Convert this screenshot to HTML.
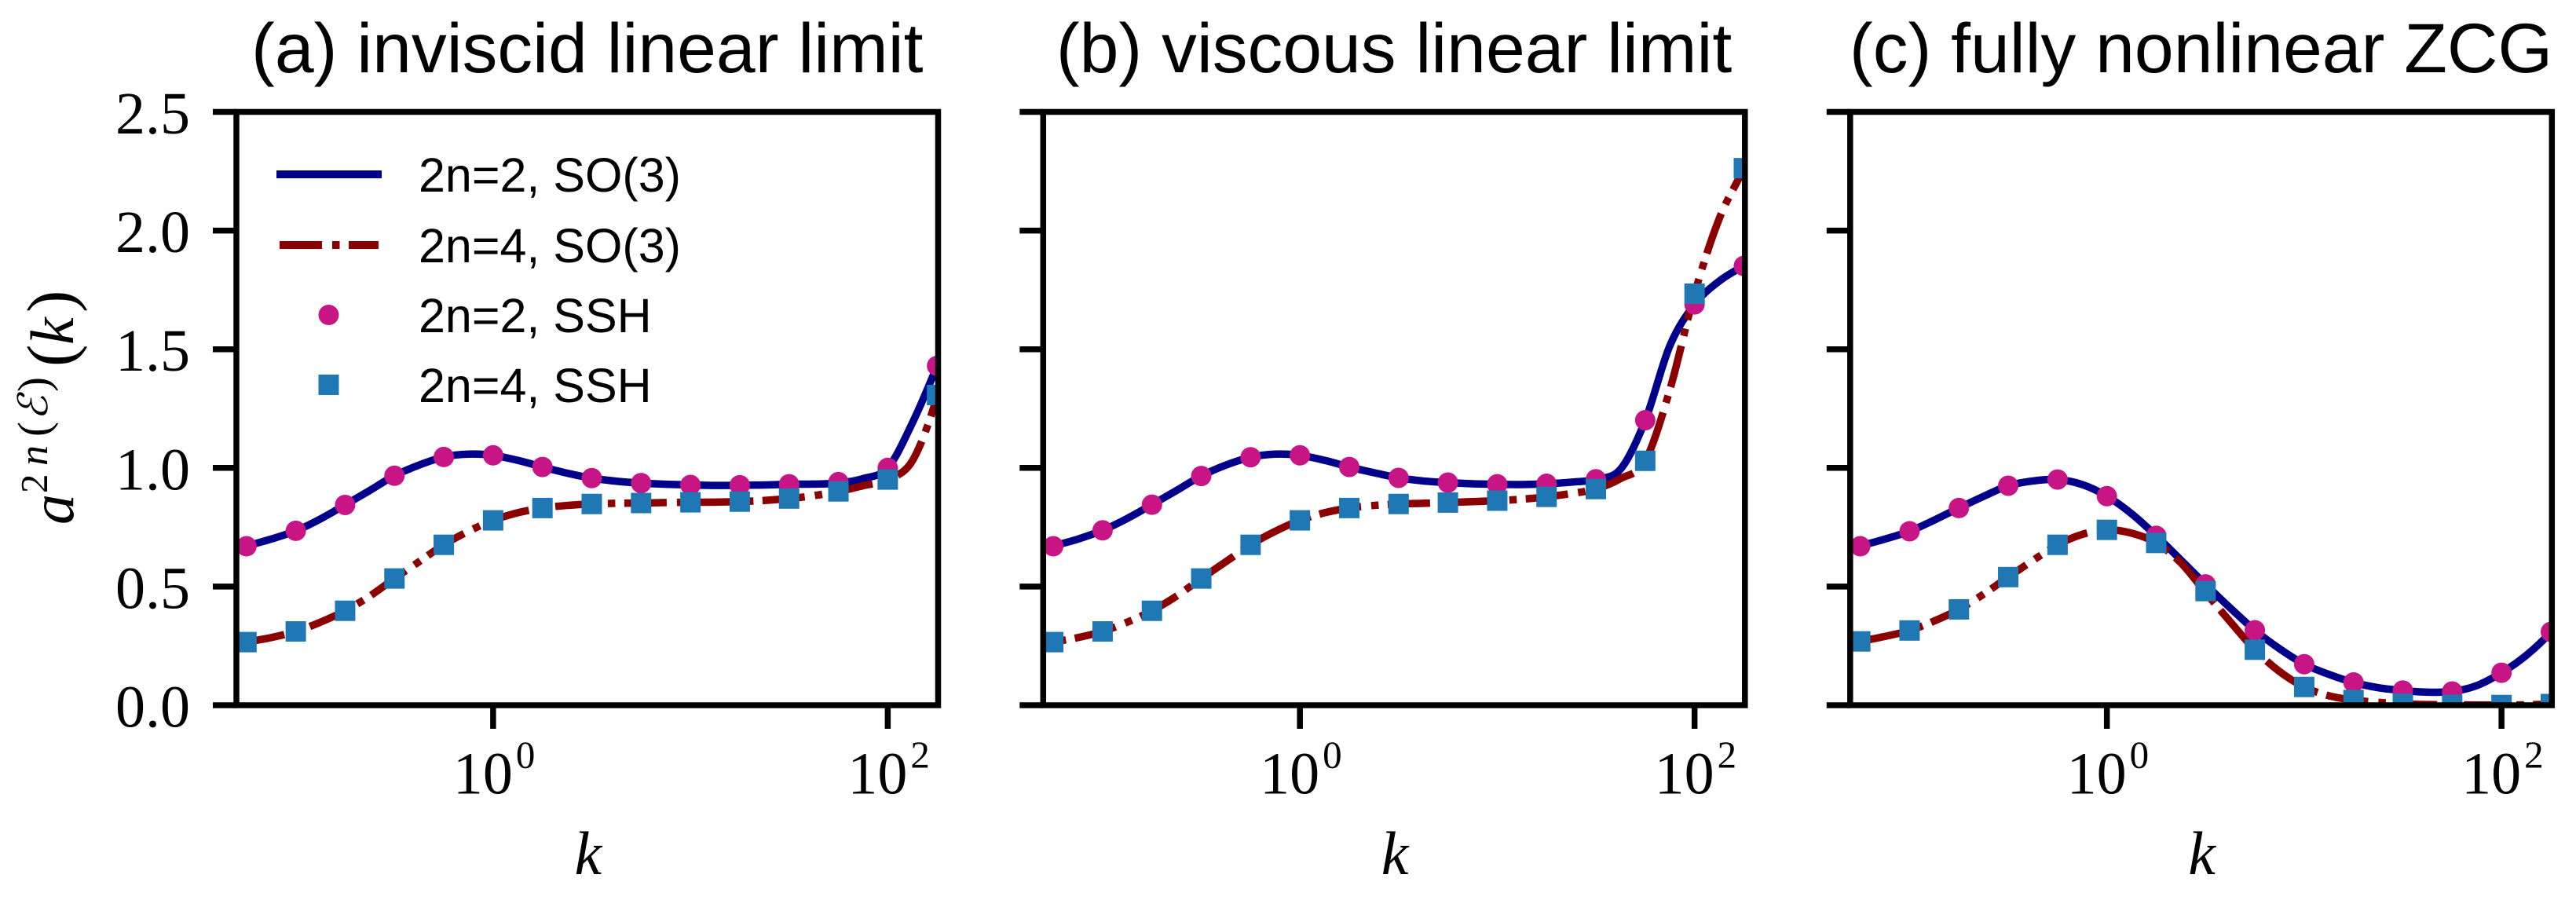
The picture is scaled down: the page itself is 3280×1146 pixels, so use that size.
<!DOCTYPE html>
<html lang="en">
<head>
<meta charset="utf-8">
<title>Energy-transfer coefficient panels</title>
<style>
  html, body { margin: 0; padding: 0; background: #fff; }
  svg { display: block; }
  text { fill: #000; }
  .title { font-family: "Liberation Sans", sans-serif; font-size: 89.5px; text-anchor: middle; }
  .legend-text { font-family: "Liberation Sans", sans-serif; font-size: 61px; }
  .tick { font-family: "Liberation Serif", serif; font-size: 76px; }
  .math { font-family: "Liberation Serif", serif; font-style: italic; font-size: 78px; }
</style>
</head>
<body>
<svg id="chart" xmlns="http://www.w3.org/2000/svg" width="3280" height="1146" viewBox="0 0 3280 1146">
  <rect x="0" y="0" width="3280" height="1146" fill="#ffffff"/>
  <g id="panels"></g>
  <g transform="translate(93,668) rotate(-90)">
    <text class="math"><tspan x="0" y="0">a</tspan><tspan x="40" y="-33" font-size="49" font-style="normal">2</tspan><tspan x="75" y="-33" font-size="52">n</tspan><tspan x="112" y="-31" font-size="57" font-style="normal">(</tspan><tspan x="133" y="-33" font-size="52" font-family="'DejaVu Serif','Liberation Serif',serif">ℰ</tspan><tspan x="169" y="-31" font-size="57" font-style="normal">)</tspan><tspan x="201" y="0" font-size="85" font-style="normal">(</tspan><tspan x="229" y="0">k</tspan><tspan x="270" y="0" font-size="85" font-style="normal">)</tspan></text>
  </g>
  <g>
    <g>
      <line x1="352" y1="222" x2="486" y2="222" stroke="#00008b" stroke-width="10"/>
      <text class="legend-text" x="533" y="244">2n=2, SO(3)</text>
    </g>
    <g>
      <line x1="356" y1="312" x2="482" y2="312" stroke="#8b0000" stroke-width="10" stroke-dasharray="54 13 9.5 11.5"/>
      <text class="legend-text" x="533" y="334">2n=4, SO(3)</text>
    </g>
    <g>
      <circle cx="418.5" cy="401" r="13" fill="#c71585"/>
      <text class="legend-text" x="533" y="423">2n=2, SSH</text>
    </g>
    <g>
      <rect x="405.5" y="477" width="26" height="26" fill="#1f77b4"/>
      <text class="legend-text" x="533" y="512">2n=4, SSH</text>
    </g>
  </g>
</svg>
<script>
// ---- data ----
const panelKeys = ['a', 'b', 'c'];
const panelTitles = ['(a) inviscid linear limit', '(b) viscous linear limit', '(c) fully nonlinear ZCG'];
const yTickValues = [0, 0.5, 1, 1.5, 2, 2.5];
const yLimits = [0, 2.5];
const kLimits = [0.05, 180];
const xTickExponents = [0, 2];

// log10(k) sampling of the SO(3) curves
const lineLogK = [-1.375, -1.25, -1.125, -1, -0.875, -0.75, -0.625, -0.5, -0.375, -0.25, -0.125, 0, 0.125, 0.25, 0.375, 0.5, 0.625, 0.75, 0.875, 1, 1.125, 1.25, 1.375, 1.5, 1.625, 1.75, 1.875, 2, 2.125, 2.25, 2.375];
const so3n2A = [0.63, 0.67, 0.70, 0.735, 0.785, 0.844, 0.905, 0.967, 1.012, 1.046, 1.058, 1.053, 1.032, 1.004, 0.978, 0.957, 0.944, 0.936, 0.931, 0.928, 0.926, 0.927, 0.928, 0.931, 0.932, 0.936, 0.955, 1.0, 1.19, 1.43, 1.7];
const so3n4A = [0.24, 0.266, 0.285, 0.311, 0.35, 0.398, 0.46, 0.534, 0.605, 0.676, 0.733, 0.779, 0.811, 0.831, 0.842, 0.848, 0.851, 0.852, 0.854, 0.855, 0.856, 0.858, 0.863, 0.871, 0.883, 0.901, 0.925, 0.951, 1.03, 1.30, 1.7];
const so3n2B = [0.63, 0.67, 0.70, 0.737, 0.787, 0.845, 0.905, 0.966, 1.012, 1.045, 1.058, 1.053, 1.032, 1.004, 0.98, 0.958, 0.945, 0.938, 0.933, 0.931, 0.93, 0.933, 0.94, 0.952, 0.995, 1.20, 1.515, 1.689, 1.787, 1.851, 1.90];
const so3n4B = [0.24, 0.266, 0.285, 0.311, 0.35, 0.398, 0.46, 0.534, 0.605, 0.676, 0.733, 0.779, 0.811, 0.831, 0.842, 0.848, 0.851, 0.854, 0.858, 0.862, 0.868, 0.878, 0.892, 0.911, 0.955, 1.03, 1.33, 1.734, 2.05, 2.263, 2.5];
const so3n2C = [0.63, 0.67, 0.70, 0.733, 0.78, 0.831, 0.88, 0.925, 0.945, 0.951, 0.93, 0.881, 0.807, 0.714, 0.612, 0.509, 0.41, 0.316, 0.238, 0.173, 0.13, 0.096, 0.074, 0.062, 0.055, 0.058, 0.083, 0.137, 0.21, 0.309, 0.45];
const so3n4C = [0.245, 0.269, 0.29, 0.315, 0.355, 0.404, 0.468, 0.54, 0.61, 0.676, 0.72, 0.739, 0.725, 0.684, 0.60, 0.475, 0.352, 0.234, 0.142, 0.077, 0.04, 0.022, 0.012, 0.006, 0.003, 0.002, 0.001, 0.001, 0.002, 0.005, 0.01];

// log10(k) of the SSH samples
const markerLogK = [-1.25, -1, -0.75, -0.5, -0.25, 0, 0.25, 0.5, 0.75, 1, 1.25, 1.5, 1.75, 2, 2.25];
const sshN2A = [0.67, 0.735, 0.844, 0.967, 1.046, 1.053, 1.004, 0.957, 0.936, 0.928, 0.927, 0.931, 0.94, 1.0, 1.43];
const sshN4A = [0.266, 0.311, 0.398, 0.534, 0.676, 0.779, 0.831, 0.848, 0.852, 0.855, 0.858, 0.871, 0.901, 0.951, 1.307];
const sshN2B = [0.67, 0.737, 0.845, 0.966, 1.045, 1.053, 1.004, 0.958, 0.938, 0.931, 0.933, 0.952, 1.201, 1.689, 1.851];
const sshN4B = [0.266, 0.311, 0.398, 0.534, 0.676, 0.779, 0.831, 0.848, 0.854, 0.862, 0.878, 0.911, 1.03, 1.734, 2.263];
const sshN2C = [0.67, 0.733, 0.831, 0.925, 0.951, 0.881, 0.714, 0.509, 0.316, 0.173, 0.096, 0.062, 0.058, 0.137, 0.309];
const sshN4C = [0.269, 0.315, 0.404, 0.540, 0.676, 0.739, 0.684, 0.481, 0.234, 0.077, 0.022, 0.006, 0.002, 0.001, 0.005];

// ---- layout ----
const NS = 'http://www.w3.org/2000/svg';
const root = document.getElementById('panels');
const plotTop = 142.5, plotBottom = 898, plotWidth = 893.5;
const plotLefts = [301, 1328.3, 2355.8];
const dashDotAnchorLogK = [0.6, 0.38, 1.05];
const seriesByPanel = [
  { n2: so3n2A, n4: so3n4A, s2: sshN2A, s4: sshN4A },
  { n2: so3n2B, n4: so3n4B, s2: sshN2B, s4: sshN4B },
  { n2: so3n2C, n4: so3n4C, s2: sshN2C, s4: sshN4C }
];

function yScale(v) {
  return plotBottom - (v - yLimits[0]) / (yLimits[1] - yLimits[0]) * (plotBottom - plotTop);
}
function xScale(logK, left) {
  const lo = Math.log10(kLimits[0]), hi = Math.log10(kLimits[1]);
  return left + (logK - lo) / (hi - lo) * plotWidth;
}
function make(tag, attrs, parent) {
  const el = document.createElementNS(NS, tag);
  for (const key in attrs) el.setAttribute(key, attrs[key]);
  parent.appendChild(el);
  return el;
}
function smoothPath(pts) {
  let d = 'M' + pts[0][0].toFixed(2) + ' ' + pts[0][1].toFixed(2);
  for (let i = 0; i < pts.length - 1; i++) {
    const p0 = pts[Math.max(i - 1, 0)], p1 = pts[i], p2 = pts[i + 1], p3 = pts[Math.min(i + 2, pts.length - 1)];
    const c1x = p1[0] + (p2[0] - p0[0]) / 6, c1y = p1[1] + (p2[1] - p0[1]) / 6;
    const c2x = p2[0] - (p3[0] - p1[0]) / 6, c2y = p2[1] - (p3[1] - p1[1]) / 6;
    d += 'C' + c1x.toFixed(2) + ' ' + c1y.toFixed(2) + ' ' + c2x.toFixed(2) + ' ' + c2y.toFixed(2) + ' ' + p2[0].toFixed(2) + ' ' + p2[1].toFixed(2);
  }
  return d;
}
// Align the dash pattern so that a dot falls at a given x along the curve.
function alignDash(path, targetX) {
  let lo = 0, hi = path.getTotalLength();
  for (let i = 0; i < 30; i++) {
    const mid = (lo + hi) / 2;
    if (path.getPointAtLength(mid).x < targetX) lo = mid; else hi = mid;
  }
  path.setAttribute('stroke-dashoffset', (71.75 - lo).toFixed(2));
}

const defs = make('defs', {}, root);

panelKeys.forEach(function (key, p) {
  const left = plotLefts[p];
  const data = seriesByPanel[p];

  const clip = make('clipPath', { id: 'clip-' + key }, defs);
  make('rect', { x: left, y: plotTop, width: plotWidth, height: plotBottom - plotTop }, clip);

  const group = make('g', {}, root);
  
  

  const title = make('text', { class: 'title', x: left + plotWidth / 2, y: 92 }, group);
  title.textContent = panelTitles[p];
  
  

  const marks = make('g', { 'clip-path': 'url(#clip-' + key + ')' }, group);
  
  

  const n2Line = make('path', {
    d: smoothPath(lineLogK.map(function (lk, i) { return [xScale(lk, left), yScale(data.n2[i])]; })),
    fill: 'none', stroke: '#00008b', 'stroke-width': 9.5
  }, marks);
  
  

  const n4Line = make('path', {
    d: smoothPath(lineLogK.map(function (lk, i) { return [xScale(lk, left), yScale(data.n4[i])]; })),
    fill: 'none', stroke: '#8b0000', 'stroke-width': 9.5, 'stroke-dasharray': '54 13 9.5 11.5'
  }, marks);
  
  
  alignDash(n4Line, xScale(dashDotAnchorLogK[p], left));

  markerLogK.forEach(function (lk, i) {
    const dot = make('circle', { cx: xScale(lk, left), cy: yScale(data.s2[i]), r: 13, fill: '#c71585' }, marks);
    
    
  });
  markerLogK.forEach(function (lk, i) {
    const sq = make('rect', { x: xScale(lk, left) - 13, y: yScale(data.s4[i]) - 13, width: 26, height: 26, fill: '#1f77b4' }, marks);
    
    
  });

  const frame = make('rect', { x: left, y: plotTop, width: plotWidth, height: plotBottom - plotTop, fill: 'none', stroke: '#000', 'stroke-width': 7.5 }, group);
  
  

  yTickValues.forEach(function (v) {
    const ty = yScale(v);
    const tick = make('line', { x1: left - 30, y1: ty, x2: left, y2: ty, stroke: '#000', 'stroke-width': 7.5 }, group);
    
    
    if (p === 0) {
      const label = make('text', { class: 'tick', x: 242, y: ty + 27.5, 'text-anchor': 'end' }, group);
      label.textContent = v.toFixed(1);
      
      
    }
  });

  xTickExponents.forEach(function (e) {
    const tx = xScale(e, left);
    const tick = make('line', { x1: tx, y1: plotBottom, x2: tx, y2: 928, stroke: '#000', 'stroke-width': 7.5 }, group);
    
    
    const label = make('text', { class: 'tick', x: tx - 51, y: 1010.5 }, group);
    
    
    const base = make('tspan', {}, label);
    base.textContent = '10';
    const sup = make('tspan', { dx: 4, dy: -33, 'font-size': 49 }, label);
    sup.textContent = String(e);
  });

  const xTitle = make('text', { class: 'math', x: left + plotWidth / 2 + 1, y: 1113, 'text-anchor': 'middle' }, group);
  xTitle.textContent = 'k';
  
  
});
</script>
</body>
</html>
